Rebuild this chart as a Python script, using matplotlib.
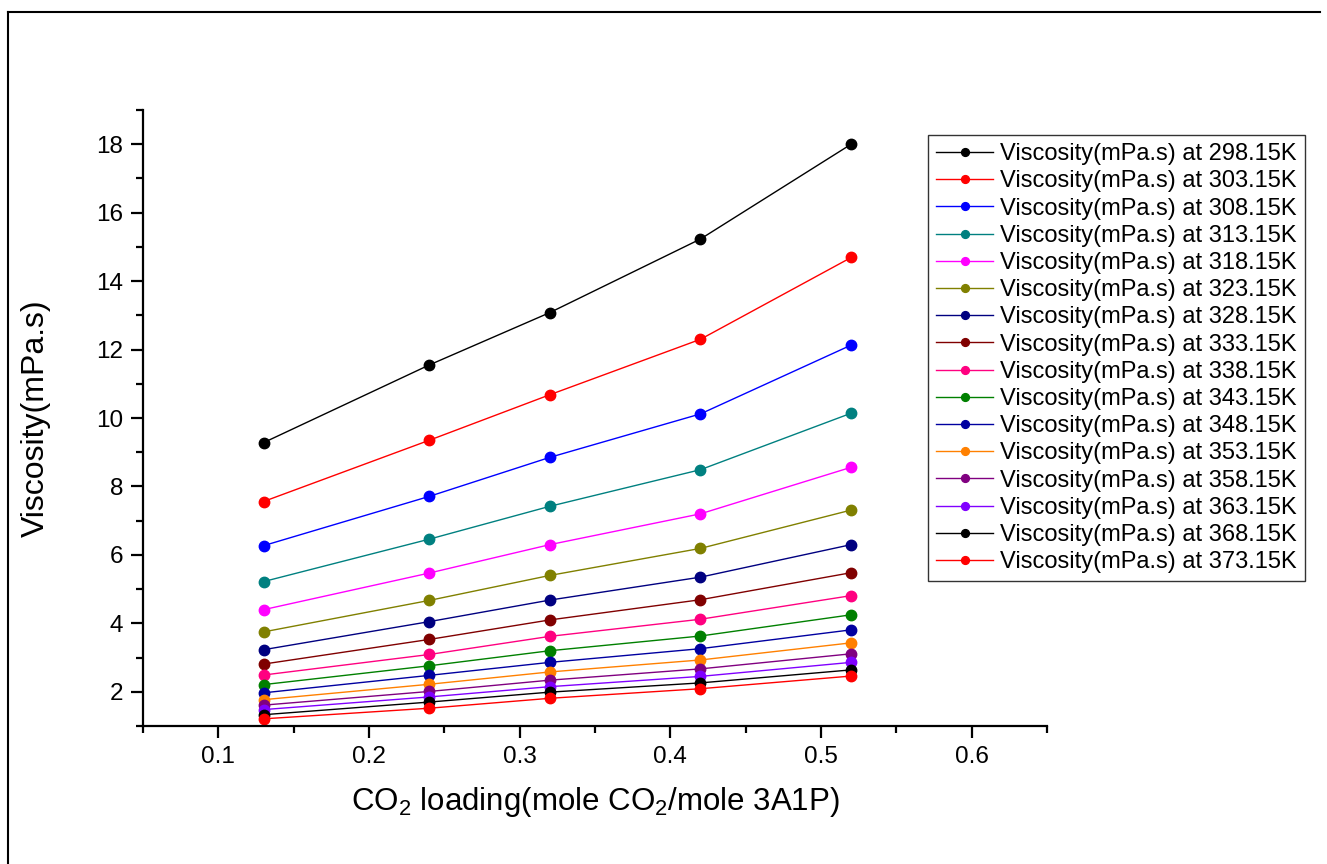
import matplotlib
matplotlib.use('Agg')
import matplotlib.pyplot as plt
from matplotlib.lines import Line2D

plt.rcParams['font.family'] = ['Liberation Sans', 'DejaVu Sans']
plt.rcParams['mathtext.default'] = 'regular'

loading = [0.13, 0.24, 0.32, 0.42, 0.52]
temps = ['298.15', '303.15', '308.15', '313.15', '318.15', '323.15', '328.15', '333.15',
         '338.15', '343.15', '348.15', '353.15', '358.15', '363.15', '368.15', '373.15']

v298 = [9.28, 11.55, 13.08, 15.23, 18.00]
v303 = [7.56, 9.35, 10.68, 12.30, 14.69]
v308 = [6.27, 7.71, 8.85, 10.12, 12.13]
v313 = [5.22, 6.46, 7.42, 8.49, 10.14]
v318 = [4.40, 5.47, 6.30, 7.20, 8.56]
v323 = [3.75, 4.67, 5.40, 6.19, 7.31]
v328 = [3.23, 4.05, 4.68, 5.35, 6.30]
v333 = [2.81, 3.53, 4.10, 4.69, 5.48]
v338 = [2.49, 3.09, 3.62, 4.12, 4.81]
v343 = [2.21, 2.76, 3.20, 3.63, 4.25]
v348 = [1.97, 2.48, 2.86, 3.26, 3.81]
v353 = [1.77, 2.22, 2.58, 2.93, 3.43]
v358 = [1.61, 2.01, 2.34, 2.67, 3.11]
v363 = [1.48, 1.85, 2.15, 2.45, 2.86]
v368 = [1.33, 1.70, 1.99, 2.26, 2.64]
v373 = [1.21, 1.52, 1.81, 2.09, 2.46]

series = [v298, v303, v308, v313, v318, v323, v328, v333,
          v338, v343, v348, v353, v358, v363, v368, v373]
colors = ['#000000', '#FF0000', '#0000FF', '#008080', '#FF00FF', '#808000', '#000080', '#800000',
          '#FF0080', '#008000', '#0000A0', '#FF8000', '#800080', '#8000FF', '#000000', '#FF0000']

fig = plt.figure(figsize=(13.27, 8.64), dpi=100)
ax = fig.add_axes([0.1078, 0.1597, 0.6812, 0.713])

for t, vals, c in zip(temps, series, colors):
    ax.plot(loading, vals, '-o', color=c, lw=1.0, ms=7.5,
            label='Viscosity(mPa.s) at %sK' % t)

ax.set_xlim(0.05, 0.65)
ax.set_ylim(1, 19)
ax.set_xticks([0.1, 0.2, 0.3, 0.4, 0.5, 0.6])
ax.set_xticks([0.05, 0.15, 0.25, 0.35, 0.45, 0.55, 0.65], minor=True)
ax.set_yticks([2, 4, 6, 8, 10, 12, 14, 16, 18])
ax.set_yticks([1, 3, 5, 7, 9, 11, 13, 15, 17, 19], minor=True)

for s in ['top', 'right']:
    ax.spines[s].set_visible(False)
for s in ['left', 'bottom']:
    ax.spines[s].set_linewidth(1.6)

ax.tick_params(which='major', direction='out', length=8.5, width=1.6, labelsize=17.5, pad=6)
ax.tick_params(which='minor', direction='out', length=5, width=1.6)

ax.set_xlabel(r'CO$_2$ loading(mole CO$_2$/mole 3A1P)', fontsize=22.5, labelpad=12)
ax.set_ylabel('Viscosity(mPa.s)', fontsize=23, labelpad=32)

leg = ax.legend(loc='upper left', bbox_to_anchor=(928 / 1327, 1 - 135 / 864),
                bbox_transform=fig.transFigure, borderaxespad=0, fontsize=17,
                labelspacing=0.22, handlelength=2.4, handletextpad=0.3,
                borderpad=0.35, markerscale=0.75, fancybox=False, frameon=True)
leg.get_frame().set_edgecolor('black')
leg.get_frame().set_linewidth(1.0)

# outer frame lines (left and top)
fig.add_artist(Line2D([8 / 1327, 8 / 1327], [0, 1 - 12 / 864], color='black', lw=1.5,
                      transform=fig.transFigure))
fig.add_artist(Line2D([8 / 1327, 1320 / 1327], [1 - 12 / 864, 1 - 12 / 864], color='black',
                      lw=1.5, transform=fig.transFigure))

fig.savefig('out.png', dpi=100)
